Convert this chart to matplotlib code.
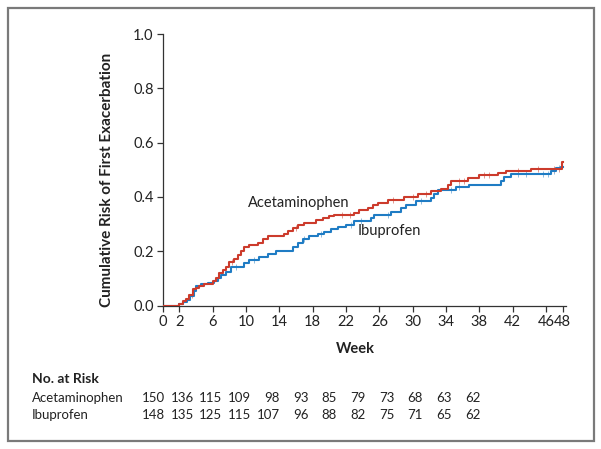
import numpy as np
import matplotlib
matplotlib.use('Agg')
import matplotlib.pyplot as plt
from matplotlib.patches import Rectangle

plt.rcParams['font.family'] = ['Lato', 'DejaVu Sans']

# Kaplan-Meier step points (week, cumulative risk)
acet_t = [0, 2.0, 2.4, 2.8, 3.2, 3.6, 4.0, 4.4, 5.0, 6.0, 6.4, 6.8, 7.2, 7.6, 8.0, 8.6,
          9.0, 9.4, 9.8, 10.3, 11.4, 12.0, 12.6, 14.6, 15.0, 15.6, 16.2, 17.0, 18.4,
          19.2, 20.0, 20.6, 23.0, 23.6, 24.6, 25.2, 25.8, 27.0, 29.0, 30.6, 32.2, 33.4,
          34.2, 34.6, 36.6, 38.0, 40.2, 41.2, 44.2, 47.9, 48.0]
acet_y = [0, 0.005, 0.015, 0.025, 0.04, 0.06, 0.065, 0.072, 0.08, 0.09, 0.10, 0.12, 0.13,
          0.14, 0.16, 0.17, 0.185, 0.20, 0.215, 0.222, 0.232, 0.245, 0.255, 0.265, 0.275,
          0.285, 0.295, 0.305, 0.315, 0.322, 0.33, 0.335, 0.342, 0.35, 0.36, 0.37, 0.378,
          0.388, 0.40, 0.41, 0.42, 0.428, 0.443, 0.46, 0.47, 0.48, 0.488, 0.496, 0.502,
          0.53, 0.53]

ibu_t = [0, 2.0, 2.4, 2.9, 3.3, 3.7, 4.0, 4.6, 5.4, 6.2, 6.6, 7.0, 7.6, 8.2, 9.8, 10.4,
         11.6, 12.6, 13.6, 15.6, 16.2, 16.8, 17.6, 18.6, 19.4, 20.2, 21.0, 22.0, 23.0,
         25.0, 25.4, 27.4, 28.6, 29.2, 30.4, 32.2, 32.6, 33.0, 35.2, 36.8, 40.6, 41.0,
         41.8, 46.6, 47.2, 47.8, 48.0]
ibu_y = [0, 0.005, 0.012, 0.02, 0.035, 0.055, 0.07, 0.078, 0.083, 0.09, 0.10, 0.113,
         0.125, 0.14, 0.155, 0.168, 0.178, 0.188, 0.202, 0.215, 0.23, 0.245, 0.255, 0.262,
         0.272, 0.28, 0.29, 0.298, 0.31, 0.322, 0.335, 0.345, 0.36, 0.372, 0.385, 0.395,
         0.41, 0.425, 0.435, 0.445, 0.46, 0.475, 0.485, 0.495, 0.505, 0.51, 0.51]

# censored observations (weeks)
acet_cens = [3.5, 8.3, 16.0, 21.5, 22.5, 27.6, 30.0, 31.6, 35.5, 36.2, 38.6, 39.2, 42.6,
             45.0, 47.0, 47.5]
ibu_cens = [8.8, 11.0, 17.0, 19.0, 22.6, 23.8, 27.0, 31.0, 34.6, 35.6, 42.6, 43.6, 45.6,
            46.2, 47.0, 47.5]

x_ticks = [0, 2, 6, 10, 14, 18, 22, 26, 30, 34, 38, 42, 46, 48]
y_ticks = [0.0, 0.2, 0.4, 0.6, 0.8, 1.0]

risk_acet = [150, 136, 115, 109, 98, 93, 85, 79, 73, 68, 63, 62]
risk_ibu = [148, 135, 125, 115, 107, 96, 88, 82, 75, 71, 65, 62]

red = '#cc3b2c'
blue = '#1f7cc4'
W, H = 601, 449

fig = plt.figure(figsize=(W / 100, H / 100), dpi=100)
ax = fig.add_axes([162.7 / W, 1 - 305.5 / H, 403.3 / W, 271.5 / H])

ax.step(ibu_t, ibu_y, where='post', color=blue, lw=1.5, zorder=3)
ax.step(acet_t, acet_y, where='post', color=red, lw=1.5, zorder=3)

def at(t, tt, yy):
    i = np.searchsorted(tt, t, side='right') - 1
    return np.asarray(yy)[i]

ax.plot(ibu_cens, at(ibu_cens, ibu_t, ibu_y), ls='none', marker='|', ms=5, mew=0.7,
        color='#8dbbe0', zorder=2)
ax.plot(acet_cens, at(acet_cens, acet_t, acet_y), ls='none', marker='|', ms=5, mew=0.7,
        color='#e39990', zorder=2)

ax.text(10.2, 0.377, 'Acetaminophen', fontsize=10.5, color='#222', va='center', ha='left')
ax.text(23.4, 0.274, 'Ibuprofen', fontsize=10.5, color='#222', va='center', ha='left')

ax.set_xlim(0, 48.4)
ax.set_ylim(0, 1.0)
ax.set_xticks(x_ticks)
ax.set_yticks(y_ticks)
ax.set_yticklabels(['{:.1f}'.format(v) for v in y_ticks])
ax.tick_params(axis='both', direction='out', length=4.5, width=0.9, colors='#333',
               labelsize=10.5, labelcolor='#222', pad=2)
for s in ['top', 'right']:
    ax.spines[s].set_visible(False)
for s in ['left', 'bottom']:
    ax.spines[s].set_color('#333')
    ax.spines[s].set_linewidth(0.9)

fig.text(107.5 / W, 1 - 180 / H, 'Cumulative Risk of First Exacerbation', rotation=90,
         ha='center', va='center', fontsize=11, fontweight='bold', color='#222')
fig.text(355 / W, 1 - 349 / H, 'Week', ha='center', va='center', fontsize=10.5,
         fontweight='bold', color='#222')

# number at risk table
fig.text(31.5 / W, 1 - 379 / H, 'No. at Risk', ha='left', va='center', fontsize=10,
         fontweight='bold', color='#222')
fig.text(31.5 / W, 1 - 398 / H, 'Acetaminophen', ha='left', va='center', fontsize=9.5,
         color='#222')
fig.text(31.5 / W, 1 - 415 / H, 'Ibuprofen', ha='left', va='center', fontsize=9.5,
         color='#222')
for i, (a, b) in enumerate(zip(risk_acet, risk_ibu)):
    xr = (165 + i * 28.65) / W
    fig.text(xr, 1 - 398 / H, str(a), ha='right', va='center', fontsize=9.5, color='#222')
    fig.text(xr, 1 - 415 / H, str(b), ha='right', va='center', fontsize=9.5, color='#222')

fig.patches.append(Rectangle((7.5 / W, 1 - 441 / H), 586 / W, 433.5 / H,
                             transform=fig.transFigure, fill=False, ec='#7a7a7a', lw=1.6))

fig.savefig('out.png', dpi=100)
